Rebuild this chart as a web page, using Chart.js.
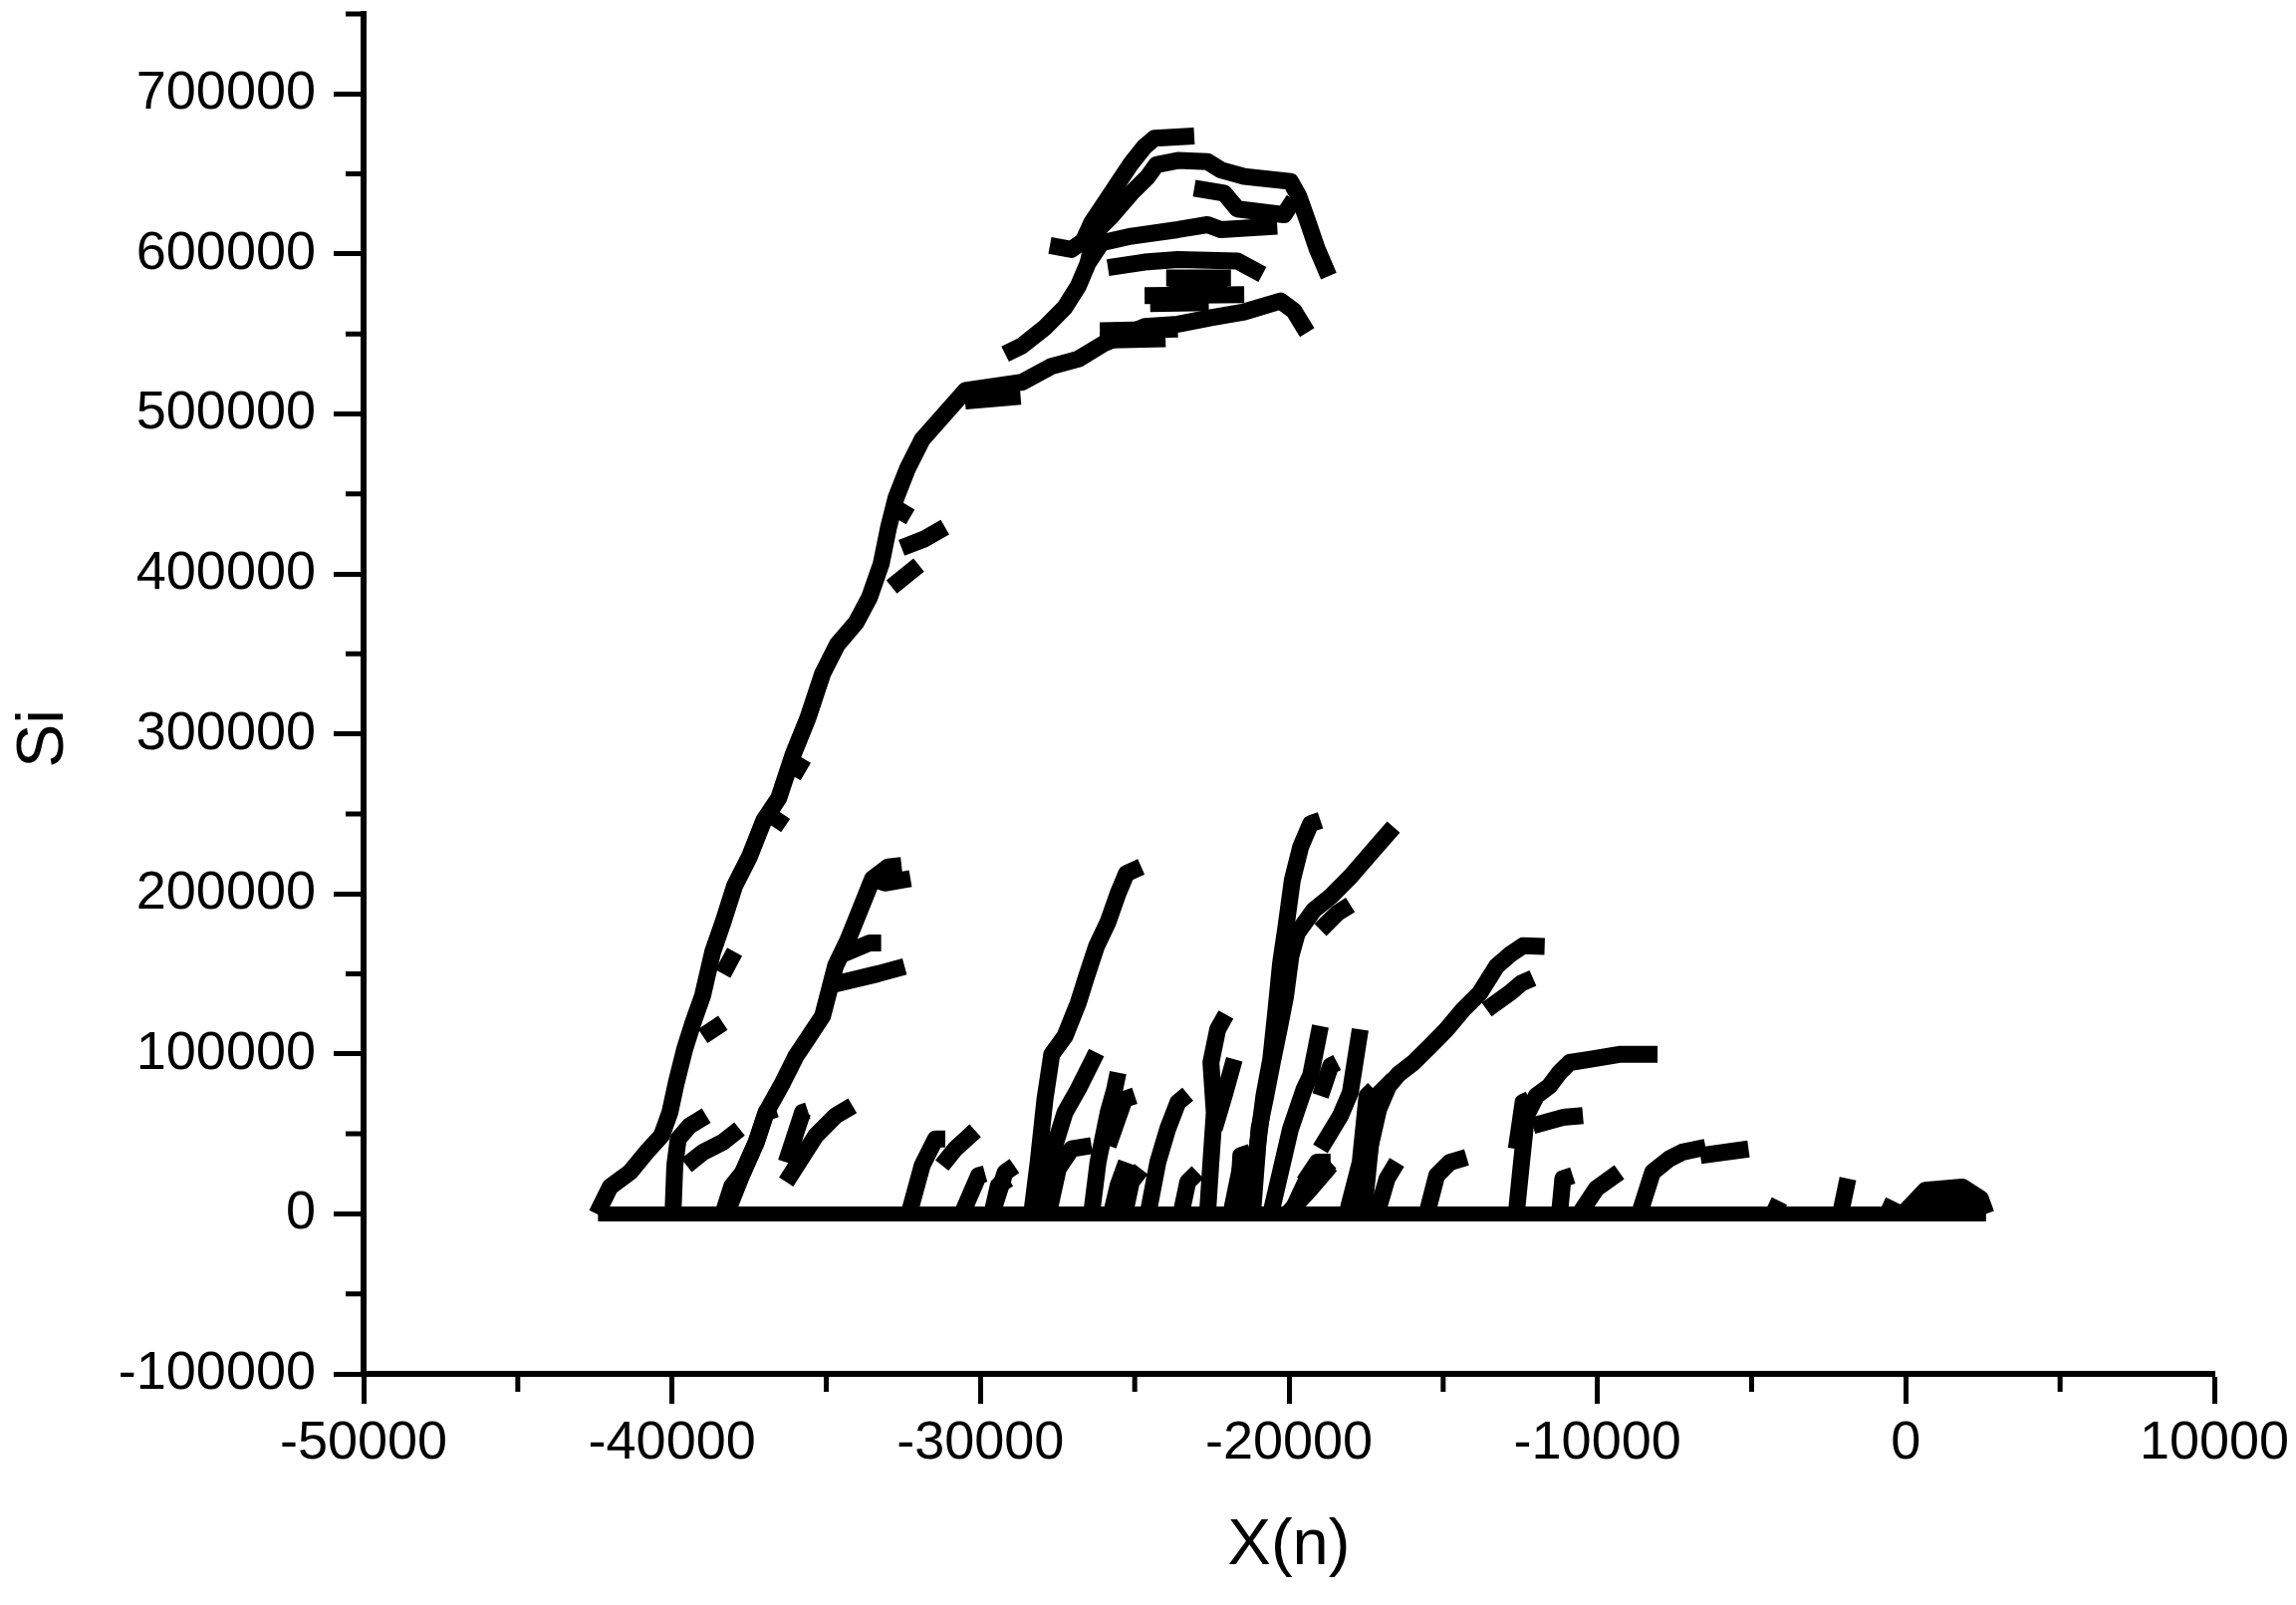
<!DOCTYPE html>
<html>
<head>
<meta charset="utf-8">
<script src="https://cdn.jsdelivr.net/npm/chart.js@4"></script>
<style>
    html, body { margin: 0; padding: 0; background: #fff; }
    canvas { display: block; }
</style>
</head>
<body>
<canvas id="chart" width="2305" height="1611"></canvas>
<script>
// tick values
const xMajor = [-50000, -40000, -30000, -20000, -10000, 0, 10000];
const xMinor = [-45000, -35000, -25000, -15000, -5000, 5000];
const yMajor = [-100000, 0, 100000, 200000, 300000, 400000, 500000, 600000, 700000];
const yMinor = [-50000, 50000, 150000, 250000, 350000, 450000, 550000, 650000, 750000];

// baseline where every branch starts
const baseline = [[-42400, 0], [2600, 0]];

// main trunk, climbs up and bends right at the top
const trunk = [[-42440, 0], [-42010, 16800], [-41360, 26100], [-40830, 38500], [-40340, 48900], [-40070, 63400],
    [-39860, 82100], [-39590, 102900], [-39320, 119400], [-39010, 136300], [-38680, 163800], [-38350, 182100],
    [-37970, 205000], [-37490, 223300],
    [-37020, 246100], [-36540, 259900], [-36070, 287300], [-35590, 310200], [-35120, 337600], [-34640, 355900],
    [-34030, 369700], [-33600, 385200], [-33220, 406300], [-32980, 429100], [-32740, 447400], [-32370, 465700],
    [-31890, 484000], [-30490, 514600], [-28660, 519800], [-27690, 529800], [-26830, 534300], [-25970, 544300],
    [-24680, 554600], [-23600, 556100], [-22530, 560200], [-21450, 563800], [-20270, 570600], [-19840, 564400],
    [-19410, 550900]];
const trunkBlob = [[-30500, 508000], [-28700, 511000]];
const trunkSide1 = [[-32560, 416300], [-31800, 422000], [-31150, 429200]];
const trunkSide2 = [[-32880, 391800], [-32000, 405500]];
const trunkSide3 = [[-32650, 433700], [-32370, 442900]];
const trunkStub1 = [[-36070, 273600], [-35740, 284600]];
const trunkStub2 = [[-36690, 241600], [-36400, 249800]];
const trunkStub3 = [[-38350, 150100], [-37970, 163800]];
const trunkStub4 = [[-39000, 111100], [-38350, 119400]];

// upper crown
const crownTop = [[-27750, 605300], [-27050, 602800], [-26670, 608000], [-26400, 619400], [-25970, 631800],
    [-25540, 644300], [-25110, 656700], [-24680, 667100], [-24360, 672300], [-23070, 673700]];
const crownC = [[-29200, 537400], [-28660, 542600], [-27910, 554000], [-27270, 566500], [-26830, 579900],
    [-26510, 594500], [-26080, 606900], [-25110, 611100], [-23600, 615200], [-22640, 618300], [-22210, 615200],
    [-20380, 617300]];
const crownB = [[-26510, 594500], [-26300, 613100], [-25760, 623500], [-25110, 638000], [-24570, 648400],
    [-24300, 655700], [-23600, 658400], [-22640, 657700], [-22210, 652500], [-21450, 648400], [-19950, 645300],
    [-19680, 636000], [-19410, 621400], [-19080, 602800], [-18710, 586200]];
const crownB2 = [[-23070, 641100], [-22100, 638000], [-21670, 628100], [-20160, 624500], [-19840, 633900]];
const crownD = [[-25870, 591400], [-24680, 594900], [-23600, 596500], [-21670, 595500], [-20860, 587200]];
const crownE1 = [[-23980, 585000], [-21880, 585000]];
const crownE2 = [[-23900, 580000], [-22000, 580500]];
const crownE3 = [[-24680, 574000], [-21450, 574500]];
const crownE4 = [[-24500, 569000], [-22600, 569500]];
const crownF1 = [[-26130, 552000], [-23600, 553000]];
const crownF2 = [[-26130, 546000], [-24000, 547000]];

// second tree
const tree2 = [[-38350, 0], [-38060, 17400], [-37700, 26100], [-37270, 44800], [-36950, 63400], [-36410, 82100],
    [-35980, 98700], [-35550, 111100], [-35120, 123600], [-34900, 140000], [-34700, 155000], [-34300, 171100],
    [-33900, 190300], [-33500, 209500], [-32990, 216900], [-32560, 217800]];
const tree2Top = [[-33500, 209500], [-33100, 206800], [-32270, 209500]];
const tree2Side1 = [[-34500, 162000], [-33600, 169300], [-33220, 169300]];
const tree2Side2 = [[-34850, 143000], [-33320, 150100], [-32460, 154600]];

// low branches, left part
const low1 = [[-39970, 0], [-39910, 30300], [-39800, 46800], [-39430, 55100], [-38890, 61400]];
const low2 = [[-39530, 30300], [-39000, 38500], [-38350, 44800], [-37810, 53100]];
const low3 = [[-38240, 0], [-37700, 26100], [-37270, 44800], [-36950, 63400], [-36630, 65500]];
const low3b = [[-36300, 32300], [-35770, 63400], [-35600, 64500]];
const low4 = [[-36300, 20000], [-35340, 48900], [-34690, 61400], [-34150, 67600]];
const low5 = [[-32320, 0], [-31890, 30300], [-31460, 46800], [-31140, 46800]];
const low6 = [[-31250, 30300], [-30820, 40600], [-30170, 52000]];
const low7 = [[-30600, 0], [-30060, 24000], [-29850, 25100]];
const low8 = [[-29630, 0], [-29200, 26000], [-28900, 30000]];
const low9 = [[-29630, 0], [-29420, 17800], [-29090, 21900]];

// middle branches
const midG = [[-28340, 0], [-28130, 32300], [-27910, 71700], [-27690, 99700], [-27260, 111100], [-26830, 131900],
    [-26560, 148500], [-26240, 167200], [-25860, 182700], [-25540, 200300], [-25270, 212800], [-24790, 216900]];
const midG2 = [[-28020, 0], [-27690, 36500], [-27260, 63400], [-26830, 78000], [-26400, 94600], [-26240, 100800]];
const midG3 = [[-27800, 0], [-27480, 28200], [-27050, 40600], [-26400, 42700]];
const midI = [[-26400, 0], [-26190, 32300], [-25860, 63400], [-25650, 78000], [-25540, 88300]];
const midI2 = [[-25860, 42700], [-25330, 71700], [-25000, 73800]];
const midI3 = [[-25330, 0], [-25110, 20000], [-24790, 28000]];
const midI4 = [[-25760, 0], [-25540, 17800], [-25270, 32300]];
const midJ = [[-24570, 0], [-24250, 32300], [-23930, 53100], [-23600, 69700], [-23280, 74900]];
const midJ2 = [[-23500, 0], [-23280, 20000], [-22960, 26000]];
const midK = [[-22640, 0], [-22530, 32300], [-22420, 63400], [-22530, 94600], [-22310, 115300], [-22040, 124600]];
const midK2 = [[-21880, 0], [-21560, 30000], [-21020, 38000]];
const midK3 = [[-22420, 53100], [-22100, 73800], [-21770, 96600]];
const midK4 = [[-21670, 0], [-21560, 36500], [-21240, 38600]];
const midL = [[-21240, 0], [-21020, 42700], [-20810, 73800], [-20590, 96600], [-20430, 125700], [-20270, 156800],
    [-20110, 177500], [-19890, 208600], [-19620, 229400], [-19300, 243900], [-18980, 246000]];
const midM = [[-21180, 0], [-20970, 53100], [-20750, 73800], [-20540, 94600], [-20320, 115300], [-20110, 136000],
    [-19940, 160900], [-19730, 175500], [-19190, 190000], [-18650, 198300], [-18010, 210700], [-17360, 225200],
    [-16610, 241800]];
const midMSide = [[-18980, 177500], [-18440, 187900], [-18010, 193100]];
const midN1 = [[-20050, 0], [-19300, 15700], [-18650, 30300]];
const midN2 = [[-18120, 0], [-17690, 32300], [-17470, 73800], [-17250, 78000]];
const midN3 = [[-20590, 0], [-19950, 53100], [-19510, 78000], [-19300, 86300], [-18980, 117400]];
const midN4 = [[-18980, 40600], [-18330, 61400], [-18010, 75900], [-17690, 115300]];
const midN5 = [[-18980, 73800], [-18650, 92500], [-18440, 94600]];
const midN6 = [[-19940, 0], [-19410, 22000], [-18760, 30300], [-18650, 32300]];
const midN7 = [[-17150, 0], [-16820, 22000], [-16500, 32300]];
const midN8 = [[-19510, 19900], [-19080, 32300], [-18650, 32300]];
const midN9 = [[-17690, 0], [-17360, 42700], [-17150, 73800], [-16610, 84200]];

// right branches
const rightP = [[-17580, 0], [-17360, 42700], [-17090, 65500], [-16770, 80000], [-16450, 87300], [-15960, 94600],
    [-15420, 104900], [-14890, 115300], [-14350, 127700], [-13810, 138100], [-13270, 154700], [-12840, 162000],
    [-12410, 167600], [-11710, 167200]];
const rightPSide = [[-13590, 127700], [-12840, 138100], [-12460, 144300], [-12090, 147400]];
const rightQ = [[-12630, 0], [-12460, 32300], [-12300, 61400], [-11980, 73800], [-11550, 80000], [-11230, 88300],
    [-10900, 94600], [-10260, 96600], [-9290, 99700], [-8050, 99700]];
const rightQSide = [[-12090, 55100], [-11120, 60300], [-10470, 61400]];
const rightQSide2 = [[-12630, 40600], [-12410, 69700], [-12200, 71700]];
const right1 = [[-15530, 0], [-15210, 24000], [-14780, 32300], [-14240, 35400]];
const right2 = [[-11230, 0], [-11120, 22000], [-10800, 24000]];
const right3 = [[-10580, 0], [-10040, 15700], [-9290, 26100]];
const right4 = [[-8640, 0], [-8210, 26100], [-7670, 34400], [-7240, 38600], [-6490, 41700]];
const right5 = [[-6660, 36500], [-5100, 40600]];
const right6 = [[-4300, 0], [-4100, 8000]];
const right7 = [[-2120, 0], [-1880, 22000]];
const right8 = [[-600, 0], [-400, 8000]];
const dome = [[-90, 0], [630, 14700], [1830, 16800], [2420, 9500], [2600, 0]];
const domeFill = [[300, 8000], [2300, 8000]];

const branches = [
    trunk, trunkBlob, trunkSide1, trunkSide2, trunkSide3, trunkStub1, trunkStub2, trunkStub3, trunkStub4,
    crownTop, crownC, crownB, crownB2, crownD, crownE1, crownE2, crownE3, crownE4, crownF1, crownF2,
    tree2, tree2Top, tree2Side1, tree2Side2,
    low1, low2, low3, low3b, low4, low5, low6, low7, low8, low9,
    midG, midG2, midG3, midI, midI2, midI3, midI4, midJ, midJ2, midK, midK2, midK3, midK4, midL, midM, midMSide,
    midN1, midN2, midN3, midN4, midN5, midN6, midN7, midN8, midN9,
    rightP, rightPSide, rightQ, rightQSide, rightQSide2,
    right1, right2, right3, right4, right5, right6, right7, right8,
    dome, domeFill
];

const FONT = "'Liberation Sans', Arial, sans-serif";

function toPoints(list) {
    return list.map((p) => ({ x: p[0], y: p[1] }));
}

const datasets = branches.map((b) => ({
    data: toPoints(b),
    showLine: true,
    borderColor: "#000",
    borderWidth: 17,
    borderJoinStyle: "round",
    pointRadius: 0
}));
datasets.unshift({
    data: toPoints(baseline),
    showLine: true,
    borderColor: "#000",
    borderWidth: 15,
    pointRadius: 0
});

const minorTicks = {
    id: "minorTicks",
    afterDraw(chart) {
        const { ctx, chartArea, scales } = chart;
        ctx.save();
        ctx.strokeStyle = "#000";
        ctx.lineWidth = 5;
        ctx.beginPath();
        xMinor.forEach((v) => {
            const px = scales.x.getPixelForValue(v);
            ctx.moveTo(px, chartArea.bottom);
            ctx.lineTo(px, chartArea.bottom + 18);
        });
        yMinor.forEach((v) => {
            const py = scales.y.getPixelForValue(v);
            ctx.moveTo(chartArea.left, py);
            ctx.lineTo(chartArea.left - 18, py);
        });
        ctx.stroke();

        // y axis title, sits a little below the middle of the axis
        ctx.fillStyle = "#000";
        ctx.font = "66px " + FONT;
        ctx.textAlign = "center";
        ctx.textBaseline = "middle";
        ctx.translate(45, scales.y.getPixelForValue(297000));
        ctx.rotate(-Math.PI / 2);
        ctx.fillText("Si", 0, 0);
        ctx.restore();
    }
};

function noPadding(scale) {
    scale.paddingTop = 0;
    scale.paddingBottom = 0;
    scale.paddingLeft = 0;
    scale.paddingRight = 0;
}

new Chart(document.getElementById("chart"), {
    type: "scatter",
    data: { datasets },
    plugins: [minorTicks],
    options: {
        responsive: false,
        animation: false,
        devicePixelRatio: 1,
        layout: { padding: { top: 14, right: 82, left: 0, bottom: 0 } },
        plugins: { legend: { display: false }, tooltip: { enabled: false } },
        scales: {
            x: {
                type: "linear",
                min: xMajor[0],
                max: xMajor[xMajor.length - 1],
                afterBuildTicks: (scale) => { scale.ticks = xMajor.map((v) => ({ value: v })); },
                afterFit: (scale) => { scale.height = 232; noPadding(scale); },
                ticks: {
                    color: "#000",
                    font: { family: FONT, size: 54 },
                    padding: 8,
                    maxRotation: 0,
                    autoSkip: false,
                    callback: (v) => String(v)
                },
                grid: { drawOnChartArea: false, drawTicks: true, tickLength: 30, tickWidth: 5, tickColor: "#000" },
                border: { display: true, color: "#000", width: 6 },
                title: {
                    display: true,
                    text: "X(n)",
                    color: "#000",
                    font: { family: FONT, size: 65 },
                    padding: { top: 0, bottom: 20 }
                }
            },
            y: {
                type: "linear",
                min: -100000,
                max: 750000,
                afterBuildTicks: (scale) => { scale.ticks = yMajor.map((v) => ({ value: v })); },
                afterFit: (scale) => { scale.width = 365; noPadding(scale); },
                ticks: {
                    color: "#000",
                    font: { family: FONT, size: 54 },
                    padding: 18,
                    autoSkip: false,
                    callback: (v) => String(v)
                },
                grid: { drawOnChartArea: false, drawTicks: true, tickLength: 30, tickWidth: 5, tickColor: "#000" },
                border: { display: true, color: "#000", width: 6 }
            }
        }
    }
});
</script>
</body>
</html>
